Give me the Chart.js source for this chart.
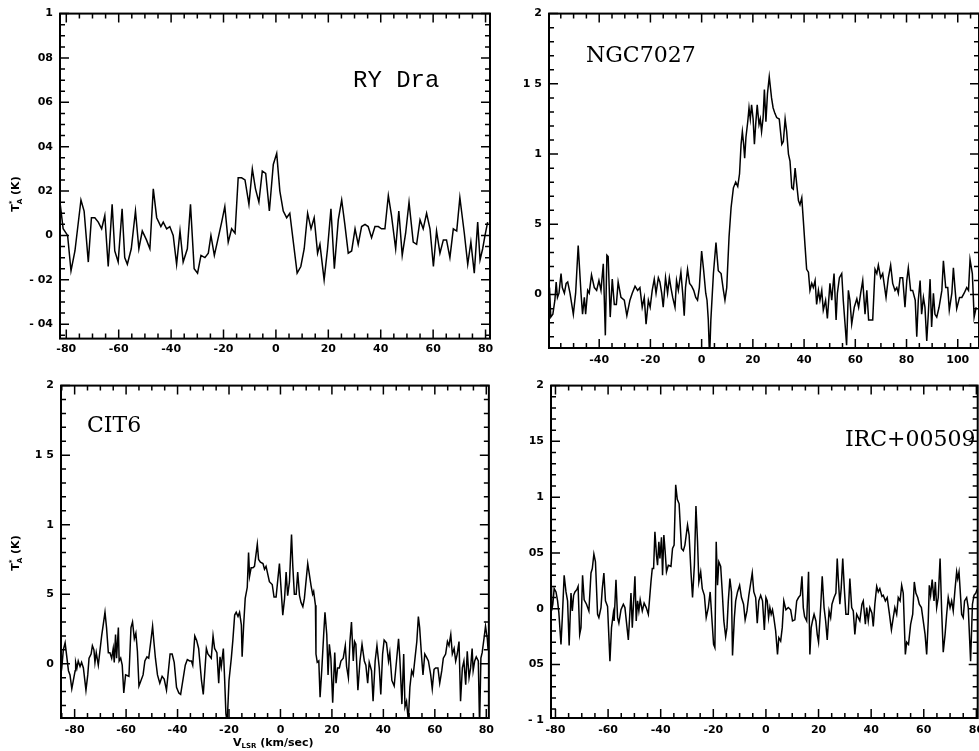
<!DOCTYPE html>
<html>
<head>
<meta charset="utf-8">
<title>CO spectra</title>
<script src="https://cdn.jsdelivr.net/npm/chart.js@4.4.0/dist/chart.umd.min.js"></script>
<style>
  html, body { margin: 0; padding: 0; background: #fff; overflow: hidden; width: 979px; height: 751px; }
  canvas { position: absolute; }
</style>
</head>
<body>
<canvas id="c1"></canvas>
<canvas id="c2"></canvas>
<canvas id="c3"></canvas>
<canvas id="c4"></canvas>
<script>
// --- data: [V_LSR (km/s), T*A (K)] ---
const ryDraSpectrum = [
  [-82.8,0.16],[-82.4,0.15],[-81.2,0.03],[-79.5,0.00],[-78.2,-0.16],[-76.7,-0.07],[-74.4,0.16],[-73.2,0.11],[-71.6,-0.12],[-70.4,0.08],
  [-69.1,0.08],[-67.8,0.06],[-66.5,0.03],[-65.3,0.09],[-64.0,-0.14],[-62.5,0.14],[-61.5,-0.07],[-60.2,-0.12],[-58.7,0.12],[-57.7,-0.10],
  [-56.7,-0.13],[-55.2,-0.06],[-53.6,0.11],[-52.3,-0.06],[-51.0,0.02],[-49.4,-0.02],[-48.1,-0.06],[-46.8,0.21],[-45.5,0.08],[-43.9,0.04],
  [-43.0,0.06],[-41.7,0.03],[-40.5,0.04],[-39.2,0.00],[-37.9,-0.13],[-36.6,0.02],[-35.4,-0.12],[-33.8,-0.06],[-32.6,0.14],[-31.2,-0.15],
  [-29.9,-0.17],[-28.6,-0.09],[-27.1,-0.10],[-25.8,-0.08],[-24.8,0.00],[-23.5,-0.09],[-22.0,-0.01],[-20.7,0.06],[-19.5,0.13],[-18.2,-0.03],
  [-16.9,0.03],[-15.6,0.01],[-14.4,0.26],[-13.1,0.26],[-11.8,0.25],[-10.3,0.14],[-9.0,0.30],[-7.8,0.21],[-6.5,0.15],[-5.2,0.29],
  [-3.9,0.28],[-2.5,0.11],[-1.0,0.32],[0.3,0.37],[1.5,0.20],[2.8,0.11],[4.1,0.08],[5.3,0.10],[8.1,-0.17],[9.5,-0.14],
  [10.8,-0.06],[12.1,0.10],[13.4,0.03],[14.6,0.08],[15.9,-0.08],[16.8,-0.04],[18.4,-0.20],[19.7,-0.06],[21.0,0.12],[22.3,-0.15],
  [23.8,0.07],[25.1,0.16],[26.3,0.05],[27.6,-0.08],[28.9,-0.07],[30.2,0.03],[31.4,-0.04],[32.7,0.04],[34.0,0.05],[35.2,0.04],
  [36.5,-0.01],[37.8,0.04],[39.1,0.04],[40.3,0.03],[41.6,0.03],[42.9,0.18],[44.1,0.09],[45.7,-0.06],[46.9,0.11],[48.2,-0.09],
  [49.5,0.01],[50.8,0.15],[52.4,-0.03],[53.7,-0.04],[55.0,0.07],[56.2,0.03],[57.5,0.10],[58.8,0.03],[60.1,-0.14],[61.3,0.02],
  [62.6,-0.08],[63.9,-0.02],[65.1,-0.02],[66.4,-0.10],[67.7,0.03],[69.0,0.02],[70.2,0.17],[71.9,0.01],[73.2,-0.13],[74.4,-0.03],
  [75.7,-0.17],[77.0,0.06],[77.9,-0.11],[78.9,-0.06],[79.8,0.00],[80.8,0.06]
];

const ngc7027Spectrum = [
  [-59.4,0.05],[-58.9,-0.16],[-58.1,-0.14],[-57.3,-0.04],[-56.8,0.09],[-56.3,-0.02],[-55.7,0.01],[-54.9,0.15],[-54.4,0.05],[-53.6,0.01],
  [-52.9,0.08],[-52.3,0.09],[-51.4,0.01],[-50.1,-0.14],[-49.2,0.01],[-48.2,0.35],[-47.1,0.01],[-46.5,-0.14],[-45.8,-0.02],[-45.3,-0.14],
  [-44.5,0.03],[-43.9,0.01],[-43.0,0.14],[-41.9,0.05],[-41.0,0.03],[-40.1,0.10],[-39.3,0.03],[-38.4,0.22],[-37.6,-0.29],[-37.0,0.28],
  [-36.5,0.27],[-35.7,-0.16],[-34.9,0.11],[-34.1,-0.07],[-33.3,-0.07],[-32.6,0.09],[-31.5,-0.02],[-30.2,-0.04],[-29.2,-0.15],[-28.0,-0.04],
  [-27.1,0.01],[-26.0,0.06],[-25.0,0.03],[-24.1,0.05],[-23.2,-0.09],[-22.4,-0.02],[-21.7,-0.21],[-20.8,-0.04],[-20.1,-0.09],[-19.3,0.03],
  [-18.5,0.11],[-17.8,0.01],[-16.9,0.12],[-16.3,0.09],[-15.6,0.01],[-15.0,-0.09],[-14.1,0.12],[-13.3,0.01],[-12.6,0.12],[-12.0,0.05],
  [-11.3,-0.02],[-10.4,-0.09],[-9.8,0.10],[-9.1,0.03],[-8.1,0.16],[-7.4,0.01],[-6.8,-0.15],[-6.3,0.05],[-5.5,0.18],[-4.7,0.08],
  [-3.9,0.06],[-3.1,0.03],[-2.3,-0.02],[-1.6,-0.04],[-0.9,0.05],[0.0,0.31],[0.8,0.17],[1.6,0.01],[2.1,-0.04],[2.6,-0.18],
  [3.1,-0.45],[3.6,-0.18],[4.6,0.15],[5.6,0.37],[6.5,0.17],[7.6,0.15],[8.5,0.03],[9.1,-0.04],[9.8,0.05],[10.7,0.41],
  [11.5,0.62],[12.4,0.76],[13.3,0.80],[14.1,0.77],[14.8,0.86],[15.4,1.07],[15.9,1.16],[16.4,1.07],[16.8,0.97],[17.3,1.12],
  [18.0,1.23],[18.5,1.33],[19.0,1.25],[19.5,1.35],[20.1,1.25],[20.6,1.07],[21.1,1.21],[21.7,1.35],[22.4,1.21],[22.9,1.25],
  [23.4,1.16],[24.0,1.26],[24.5,1.46],[25.1,1.23],[25.7,1.43],[26.4,1.55],[27.3,1.40],[27.9,1.33],[28.6,1.29],[29.3,1.26],
  [30.3,1.25],[31.3,1.07],[31.9,1.09],[32.6,1.25],[33.2,1.16],[33.9,1.00],[34.5,0.95],[35.2,0.76],[35.8,0.75],[36.5,0.90],
  [37.1,0.79],[37.8,0.67],[38.4,0.64],[39.1,0.69],[39.7,0.53],[40.4,0.34],[41.0,0.18],[41.7,0.16],[42.3,0.03],[43.0,0.08],
  [43.6,0.05],[44.3,0.10],[44.9,-0.07],[45.6,0.03],[46.2,-0.04],[46.9,0.03],[47.5,-0.11],[48.4,-0.04],[49.1,-0.17],[50.1,0.08],
  [50.8,-0.04],[51.7,0.15],[52.5,-0.18],[53.0,0.01],[53.8,0.12],[54.7,0.15],[55.3,-0.04],[56.0,-0.21],[56.6,-0.36],[57.3,0.03],
  [57.9,-0.04],[58.6,-0.21],[59.6,-0.09],[60.6,-0.03],[61.3,-0.09],[62.1,0.01],[62.9,0.10],[63.8,-0.14],[64.5,0.03],[65.2,-0.18],
  [66.0,-0.18],[66.8,-0.18],[67.7,0.18],[68.4,0.15],[69.0,0.21],[69.9,0.12],[70.7,0.15],[72.0,-0.02],[72.9,0.12],[73.8,0.21],
  [74.6,0.08],[75.5,0.03],[76.2,0.05],[76.8,0.01],[77.5,0.12],[78.5,0.12],[79.4,-0.09],[80.1,0.10],[80.7,0.19],[81.6,0.03],
  [82.4,0.03],[83.4,-0.04],[84.0,-0.30],[84.6,-0.04],[85.3,0.10],[85.9,-0.14],[86.6,-0.02],[87.2,-0.09],[87.9,-0.33],[88.5,-0.14],
  [89.2,0.11],[89.8,-0.23],[90.5,0.01],[91.1,-0.14],[91.8,-0.16],[92.7,-0.09],[93.8,0.03],[94.4,0.24],[95.3,0.05],[96.1,0.05],
  [96.7,-0.11],[97.7,0.01],[98.3,0.19],[98.9,0.05],[99.6,-0.10],[100.7,-0.02],[101.6,-0.02],[102.5,0.01],[103.5,0.05],[104.2,0.03],
  [104.8,0.25],[105.7,0.15],[106.4,-0.16],[107.2,-0.09]
];

const cit6Spectrum = [
  [-85.7,-0.12],[-85.0,-0.03],[-84.4,0.10],[-83.7,0.15],[-82.4,-0.05],[-81.8,-0.08],[-81.1,-0.18],[-80.5,-0.12],[-79.8,-0.05],[-79.6,0.01],
  [-79.1,-0.03],[-78.6,0.02],[-77.9,-0.02],[-77.3,0.01],[-76.6,-0.03],[-75.6,-0.19],[-74.9,-0.08],[-74.4,0.04],[-73.6,0.07],[-73.1,0.13],
  [-72.5,0.10],[-72.1,0.01],[-71.6,0.08],[-70.8,-0.01],[-69.5,0.20],[-68.2,0.37],[-67.6,0.26],[-66.9,0.08],[-66.3,0.08],[-65.6,0.04],
  [-65.0,0.11],[-64.6,0.01],[-64.1,0.21],[-63.7,0.04],[-63.0,0.26],[-62.7,0.02],[-62.1,0.04],[-61.5,-0.01],[-60.9,-0.21],[-60.2,-0.08],
  [-58.9,-0.09],[-58.1,0.26],[-57.5,0.30],[-56.8,0.18],[-56.2,0.22],[-55.6,0.09],[-55.0,-0.16],[-53.4,-0.08],[-52.7,0.02],[-51.9,0.05],
  [-51.2,0.04],[-50.4,0.16],[-49.7,0.27],[-49.2,0.16],[-48.6,0.04],[-47.8,-0.08],[-46.9,-0.14],[-46.0,-0.09],[-45.2,-0.11],[-44.3,-0.19],
  [-42.9,0.07],[-42.1,0.07],[-41.3,0.01],[-40.4,-0.17],[-39.5,-0.21],[-38.8,-0.22],[-37.0,-0.01],[-36.2,0.03],[-35.3,0.02],[-34.6,0.02],
  [-34.1,-0.01],[-33.3,0.20],[-32.6,0.17],[-31.8,0.11],[-30.7,-0.12],[-30.0,-0.22],[-28.8,0.11],[-28.2,0.07],[-26.9,0.04],[-26.2,0.20],
  [-25.6,0.11],[-24.7,0.08],[-24.0,-0.14],[-23.5,0.05],[-23.0,-0.02],[-22.2,0.11],[-21.7,-0.11],[-21.2,-0.36],[-20.7,-0.42],[-20.0,-0.12],
  [-19.1,0.04],[-18.5,0.17],[-17.8,0.35],[-17.2,0.37],[-16.5,0.34],[-15.9,0.37],[-15.2,0.28],[-14.9,0.05],[-14.3,0.28],[-13.7,0.47],
  [-12.9,0.55],[-12.4,0.80],[-12.0,0.63],[-11.4,0.69],[-10.7,0.69],[-10.1,0.70],[-9.0,0.86],[-8.5,0.75],[-7.8,0.73],[-6.8,0.72],
  [-6.2,0.68],[-5.6,0.70],[-4.3,0.59],[-3.2,0.57],[-2.5,0.48],[-1.7,0.48],[-1.0,0.61],[-0.4,0.72],[0.3,0.52],[0.9,0.35],
  [1.6,0.47],[2.2,0.66],[2.8,0.49],[3.5,0.59],[4.3,0.93],[4.8,0.70],[5.4,0.50],[6.1,0.50],[6.7,0.66],[7.4,0.49],
  [8.0,0.44],[8.7,0.41],[9.3,0.47],[10.6,0.72],[11.9,0.56],[12.5,0.50],[12.9,0.52],[13.6,0.42],[13.8,0.07],[14.3,0.01],
  [14.9,0.02],[15.4,-0.24],[16.1,-0.03],[16.8,0.21],[17.3,0.37],[18.0,0.21],[18.5,-0.08],[19.0,0.14],[19.6,0.04],[20.3,-0.28],
  [21.1,0.08],[21.6,-0.14],[22.2,-0.03],[22.9,-0.03],[23.5,0.02],[24.4,0.04],[25.2,0.13],[25.7,-0.02],[26.4,-0.10],[27.0,0.16],
  [27.6,0.30],[28.3,0.02],[28.8,0.16],[29.3,0.14],[30.1,-0.19],[30.9,0.02],[31.7,0.14],[32.6,0.02],[33.2,-0.01],[33.9,-0.14],
  [34.5,0.01],[35.4,-0.05],[36.0,-0.27],[36.8,0.02],[37.5,0.13],[38.4,-0.03],[39.0,-0.22],[39.7,0.07],[40.3,0.17],[41.2,0.15],
  [42.0,0.02],[42.5,0.08],[43.3,-0.12],[44.2,-0.16],[45.1,0.02],[45.9,0.18],[46.4,0.04],[47.2,-0.29],[47.9,0.07],[48.4,-0.31],
  [49.0,-0.27],[49.7,-0.41],[50.3,-0.17],[51.0,-0.05],[51.6,-0.08],[52.3,0.04],[53.0,0.16],[53.6,0.34],[54.1,0.26],[54.9,0.04],
  [55.4,-0.08],[56.1,0.07],[56.7,0.05],[57.5,0.02],[58.4,-0.08],[59.0,-0.18],[59.7,-0.04],[60.3,-0.03],[61.2,-0.03],[61.9,-0.14],
  [62.7,-0.05],[63.3,0.04],[64.2,0.07],[64.9,0.16],[65.5,0.13],[66.2,0.21],[66.8,0.07],[67.5,0.11],[68.1,0.02],[68.7,0.07],
  [69.4,0.16],[70.0,-0.27],[70.7,-0.03],[71.3,0.02],[72.0,-0.15],[72.6,0.09],[73.3,-0.10],[73.9,-0.03],[74.5,0.11],[74.9,-0.05],
  [75.5,0.02],[76.1,0.05],[76.9,0.02],[77.4,-0.45],[77.9,0.04],[78.4,0.08],[79.1,0.18],[79.7,0.27],[80.4,0.18],[80.7,0.10]
];

const irc00509Spectrum = [
  [-81.7,0.20],[-81.5,-0.02],[-81.0,0.04],[-80.5,0.18],[-79.8,0.15],[-79.2,0.07],[-78.7,-0.04],[-77.9,-0.32],[-77.4,-0.08],[-76.7,0.30],
  [-76.0,0.15],[-75.4,0.07],[-74.8,-0.33],[-74.1,0.14],[-73.6,-0.02],[-73.1,0.12],[-72.6,0.15],[-71.9,0.17],[-71.4,0.20],[-70.8,-0.23],
  [-70.3,-0.17],[-69.7,0.30],[-69.1,0.08],[-68.2,0.04],[-67.3,-0.02],[-66.5,0.32],[-66.0,0.36],[-65.4,0.49],[-64.8,0.42],[-64.0,-0.05],
  [-63.5,-0.08],[-62.7,0.01],[-62.2,0.18],[-61.6,0.32],[-61.0,0.07],[-60.2,0.02],[-59.3,-0.47],[-58.7,-0.17],[-58.0,-0.04],[-57.7,-0.11],
  [-57.0,0.26],[-56.4,-0.08],[-55.9,-0.13],[-55.1,-0.01],[-54.2,0.04],[-53.6,0.01],[-52.3,-0.28],[-51.3,0.14],[-50.8,-0.17],[-49.8,0.29],
  [-49.3,-0.11],[-48.8,0.07],[-48.3,-0.02],[-47.8,0.08],[-47.0,-0.02],[-46.3,0.05],[-45.5,0.01],[-44.7,-0.05],[-43.7,0.24],[-43.2,0.36],
  [-42.7,0.36],[-42.2,0.69],[-41.6,0.48],[-41.2,0.39],[-40.7,0.60],[-40.3,0.45],[-39.7,0.64],[-39.3,0.30],[-38.8,0.66],[-38.3,0.51],
  [-37.8,0.33],[-37.1,0.39],[-36.1,0.38],[-35.5,0.54],[-34.9,0.57],[-34.3,1.11],[-33.7,0.98],[-33.0,0.94],[-32.1,0.54],[-31.4,0.52],
  [-30.8,0.57],[-29.8,0.75],[-29.2,0.66],[-28.5,0.33],[-27.9,0.10],[-27.2,0.39],[-26.6,0.92],[-26.0,0.60],[-25.5,0.24],[-24.8,0.33],
  [-24.2,0.18],[-23.4,0.12],[-22.7,-0.08],[-21.9,0.01],[-21.2,0.15],[-20.4,-0.14],[-19.9,-0.32],[-19.4,-0.35],[-18.9,0.60],[-18.4,0.21],
  [-17.9,0.42],[-17.2,0.38],[-16.6,0.15],[-16.0,-0.11],[-15.3,-0.25],[-14.8,-0.17],[-14.3,0.07],[-13.7,0.27],[-13.1,0.15],[-12.7,-0.42],
  [-12.0,-0.08],[-11.5,0.07],[-10.8,0.15],[-10.0,0.21],[-9.3,0.10],[-8.5,0.04],[-7.9,-0.10],[-7.2,-0.02],[-6.5,0.12],[-5.2,0.32],
  [-4.6,0.15],[-3.9,0.10],[-3.3,-0.13],[-2.7,0.07],[-2.0,0.12],[-1.3,0.07],[-0.6,-0.19],[0.0,0.10],[0.5,0.07],[1.0,-0.08],
  [1.5,0.01],[2.0,-0.05],[2.5,-0.01],[3.0,-0.08],[3.7,-0.20],[4.4,-0.41],[4.9,-0.26],[5.6,-0.29],[6.2,-0.17],[6.8,0.07],
  [7.6,-0.01],[8.5,0.01],[9.4,-0.01],[10.1,-0.11],[11.0,-0.10],[11.7,0.07],[12.4,0.10],[13.1,0.12],[13.7,0.29],[14.2,0.01],
  [14.7,-0.07],[15.5,-0.11],[16.2,0.33],[16.7,-0.41],[17.2,-0.17],[17.7,-0.11],[18.3,-0.05],[19.0,-0.11],[19.5,-0.23],[20.0,-0.30],
  [20.8,0.01],[21.4,0.29],[22.1,0.01],[22.7,-0.11],[23.3,-0.28],[24.0,-0.02],[24.6,-0.08],[25.1,0.04],[25.9,0.10],[26.6,0.14],
  [27.1,0.45],[27.5,0.27],[28.1,0.04],[28.6,0.18],[29.2,0.45],[29.8,0.18],[30.4,-0.05],[31.3,-0.05],[31.9,0.27],[32.6,0.01],
  [33.2,-0.02],[33.8,-0.23],[34.5,-0.05],[35.1,-0.08],[35.7,-0.11],[36.5,0.04],[37.0,0.07],[37.8,-0.14],[38.3,0.01],[38.9,-0.11],
  [39.5,0.01],[40.3,-0.04],[40.8,-0.16],[41.4,0.04],[42.1,0.20],[42.7,0.15],[43.3,0.18],[44.1,0.11],[44.6,0.12],[45.4,0.07],
  [46.1,0.10],[46.9,-0.04],[47.7,-0.19],[48.4,-0.08],[49.0,0.01],[49.7,-0.05],[50.3,0.10],[51.0,0.07],[51.6,0.21],[52.2,0.14],
  [53.0,-0.41],[53.5,-0.30],[54.2,-0.32],[55.0,-0.14],[55.8,-0.05],[56.4,0.24],[57.0,0.14],[57.7,0.10],[58.3,0.04],[59.1,0.01],
  [59.8,-0.11],[60.5,-0.23],[61.1,-0.41],[61.7,-0.11],[62.1,0.21],[62.6,0.12],[63.2,0.26],[63.9,0.07],[64.4,0.24],[64.9,0.01],
  [65.5,0.10],[66.2,0.45],[66.8,-0.02],[67.4,-0.39],[68.1,-0.23],[68.7,-0.05],[69.3,0.10],[70.0,0.01],[70.6,0.07],[71.2,-0.02],
  [71.9,0.18],[72.5,0.33],[72.9,0.27],[73.4,0.33],[73.8,0.18],[74.4,-0.05],[75.0,-0.08],[75.5,0.07],[76.3,0.10],[76.9,0.01],
  [77.8,-0.47],[78.5,0.04],[79.1,0.12],[79.8,0.14],[80.4,0.18]
];

// tick values and the labels as printed (decimal points lost in the scan)
const velTicks80 = [-80, -60, -40, -20, 0, 20, 40, 60, 80];
const velLabels80 = ["-80", "-60", "-40", "-20", "0", "20", "40", "60", "80"];
const velTicksNgc = [-40, -20, 0, 20, 40, 60, 80, 100];
const velLabelsNgc = ["-40", "-20", "0", "20", "40", "60", "80", "100"];
const ryTempTicks = [1, 0.8, 0.6, 0.4, 0.2, 0, -0.2, -0.4];
const ryTempLabels = ["1", "08", "06", "04", "02", "0", "- 02", "- 04"];
const tempTicks2 = [2, 1.5, 1, 0.5, 0];
const tempLabels2 = ["2", "1 5", "1", "5", "0"];
const ircTempTicks = [2, 1.5, 1, 0.5, 0, -0.5, -1];
const ircTempLabels = ["2", "15", "1", "05", "0", "05", "- 1"];

const TICK_FONT = { family: "'DejaVu Sans', sans-serif", size: 11, weight: "bold" };
const MAJOR = 9, MINOR = 5;

const panels = [
  { id: "c1", canvas: { x: 0, y: 0, w: 500, h: 372 }, box: { l: 60, t: 9, r: 490, b: 338.6 },
    xr: [-82.4, 81.7], yr: [-0.465, 1.0], xMinor: 5, yMinor: 0.05, xPad: 4,
    xTicks: velTicks80, xLabels: velLabels80, yTicks: ryTempTicks, yLabels: ryTempLabels,
    spectrum: ryDraSpectrum, name: "RY Dra", nameFont: "24px 'Liberation Mono', monospace", namePos: [353, 87],
    yTitle: [15, 194] },
  { id: "c2", canvas: { x: 500, y: 0, w: 500, h: 372 }, box: { l: 549, t: 12, r: 979, b: 348 },
    xr: [-59.6, 108.3], yr: [-0.38, 2], xMinor: 5, yMinor: 0.1, xPad: 6,
    xTicks: velTicksNgc, xLabels: velLabelsNgc, yTicks: tempTicks2, yLabels: tempLabels2,
    spectrum: ngc7027Spectrum, name: "NGC7027", nameFont: "22px 'DejaVu Serif', serif", namePos: [586, 62] },
  { id: "c3", canvas: { x: 0, y: 372, w: 500, h: 379 }, box: { l: 61, t: 381, r: 490, b: 718 },
    xr: [-85.3, 81.0], yr: [-0.39, 2], xMinor: 5, yMinor: 0.1, xPad: 6,
    xTicks: velTicks80, xLabels: velLabels80, yTicks: tempTicks2, yLabels: tempLabels2,
    spectrum: cit6Spectrum, name: "CIT6", nameFont: "22px 'DejaVu Serif', serif", namePos: [87, 432],
    yTitle: [15, 553], xTitle: [233, 746] },
  { id: "c4", canvas: { x: 500, y: 372, w: 500, h: 379 }, box: { l: 551, t: 382, r: 977.7, b: 718 },
    xr: [-81.7, 80.5], yr: [-0.98, 2], xMinor: 5, yMinor: 0.1, xPad: 6,
    xTicks: velTicks80, xLabels: velLabels80, yTicks: ircTempTicks, yLabels: ircTempLabels,
    spectrum: irc00509Spectrum, name: "IRC+00509", nameFont: "22px 'DejaVu Serif', serif", namePos: [845, 446] }
];

function isMajor(v, list) { return list.some((t) => Math.abs(t - v) < 1e-6); }

// frame with inward ticks on all four sides, plus panel texts
function framePlugin(p) {
  return {
    id: "frame",
    afterDatasetsDraw(chart) {
      const { ctx, chartArea: a, scales: { x, y } } = chart;
      ctx.save();
      ctx.strokeStyle = "#000";
      ctx.lineWidth = 1.5;
      ctx.beginPath();
      for (let k = Math.ceil(p.xr[0] / p.xMinor); k * p.xMinor <= p.xr[1]; k++) {
        const v = k * p.xMinor, px = x.getPixelForValue(v);
        const len = isMajor(v, p.xTicks) ? MAJOR : MINOR;
        ctx.moveTo(px, a.bottom); ctx.lineTo(px, a.bottom - len);
        ctx.moveTo(px, a.top); ctx.lineTo(px, a.top + len);
      }
      for (let k = Math.ceil(p.yr[0] / p.yMinor - 1e-6); k * p.yMinor <= p.yr[1] + 1e-6; k++) {
        const v = k * p.yMinor, py = y.getPixelForValue(v);
        const len = isMajor(v, p.yTicks) ? MAJOR : MINOR;
        ctx.moveTo(a.left, py); ctx.lineTo(a.left + len, py);
        ctx.moveTo(a.right, py); ctx.lineTo(a.right - len, py);
      }
      ctx.stroke();
      ctx.lineWidth = 2;
      ctx.strokeRect(a.left, a.top, a.right - a.left, a.bottom - a.top);

      ctx.fillStyle = "#000";
      ctx.textAlign = "left";
      ctx.textBaseline = "alphabetic";
      ctx.font = p.nameFont;
      ctx.fillText(p.name, p.namePos[0] - p.canvas.x, p.namePos[1] - p.canvas.y);

      const big = "bold 11px 'DejaVu Sans', sans-serif", small = "bold 7px 'DejaVu Sans', sans-serif";
      if (p.yTitle) {
        ctx.save();
        ctx.translate(p.yTitle[0] - p.canvas.x, p.yTitle[1] - p.canvas.y);
        ctx.rotate(-Math.PI / 2);
        ctx.font = big; const wT = ctx.measureText("T").width; const wK = ctx.measureText(" (K)").width;
        ctx.font = small; const wA = ctx.measureText("A").width;
        let sx = -(wT + wA + wK) / 2;
        ctx.font = big; ctx.fillText("T", sx, 4);
        ctx.font = small; ctx.fillText("*", sx + wT, -1); ctx.fillText("A", sx + wT, 7);
        ctx.font = big; ctx.fillText(" (K)", sx + wT + wA, 4);
        ctx.restore();
      }
      if (p.xTitle) {
        let sx = p.xTitle[0] - p.canvas.x;
        const by = p.xTitle[1] - p.canvas.y;
        ctx.font = big; ctx.fillText("V", sx, by); sx += ctx.measureText("V").width;
        ctx.font = small; ctx.fillText("LSR", sx, by + 2); sx += ctx.measureText("LSR").width;
        ctx.font = big; ctx.fillText(" (km/sec)", sx, by);
      }
      ctx.restore();
    }
  };
}

function makeChart(p) {
  const cv = document.getElementById(p.id);
  cv.width = p.canvas.w; cv.height = p.canvas.h;
  cv.style.left = p.canvas.x + "px"; cv.style.top = p.canvas.y + "px";
  new Chart(cv, {
    type: "line",
    data: {
      datasets: [{
        data: p.spectrum.map(([v, t]) => ({ x: v, y: t })),
        borderColor: "#000", borderWidth: 1.5, pointRadius: 0, tension: 0, fill: false
      }]
    },
    options: {
      responsive: false, animation: false, events: [],
      layout: { padding: { left: 0, bottom: 0, top: p.box.t - p.canvas.y, right: p.canvas.x + p.canvas.w - p.box.r } },
      plugins: { legend: { display: false }, tooltip: { enabled: false } },
      scales: {
        x: {
          type: "linear", min: p.xr[0], max: p.xr[1],
          grid: { display: false, drawTicks: false }, border: { display: false },
          afterBuildTicks: (s) => { s.ticks = p.xTicks.map((v) => ({ value: v })); },
          afterFit: (s) => { s.height = p.canvas.y + p.canvas.h - p.box.b; },
          ticks: { autoSkip: false, maxRotation: 0, minRotation: 0, padding: p.xPad, color: "#000", font: TICK_FONT,
                   callback: (v, i) => p.xLabels[i] }
        },
        y: {
          type: "linear", min: p.yr[0], max: p.yr[1],
          grid: { display: false, drawTicks: false }, border: { display: false },
          afterBuildTicks: (s) => { s.ticks = p.yTicks.slice().reverse().map((v) => ({ value: v })); },
          afterFit: (s) => { s.width = p.box.l - p.canvas.x; },
          ticks: { autoSkip: false, padding: 7, color: "#000", font: TICK_FONT,
                   callback: (v) => p.yLabels[p.yTicks.findIndex((t) => Math.abs(t - v) < 1e-6)] }
        }
      }
    },
    plugins: [framePlugin(p)]
  });
}

panels.forEach(makeChart);
</script>
</body>
</html>
